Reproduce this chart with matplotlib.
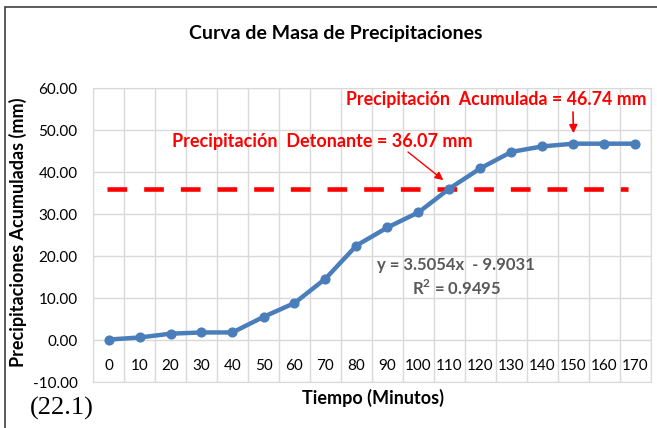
import numpy as np
import matplotlib.pyplot as plt
from matplotlib.patches import Rectangle

# datos de la curva de masa
tiempo = [0, 10, 20, 30, 40, 50, 60, 70, 80, 90, 100, 110, 120, 130, 140, 150, 160, 170]
precip_acum = [0.1, 0.6, 1.5, 1.8, 1.8, 5.5, 8.8, 14.6, 22.5, 26.8, 30.4, 36.07,
               40.9, 44.8, 46.1, 46.74, 46.74, 46.74]
p_detonante = 36.07
p_acumulada = 46.74
ecuacion = 'y = 3.5054x  - 9.9031'
r2 = 'R$^2$ = 0.9495'

plt.rcParams['font.family'] = ['Lato', 'DejaVu Sans']
plt.rcParams['mathtext.fontset'] = 'custom'
plt.rcParams['mathtext.rm'] = 'Lato:bold'

W, H = 657, 428
fig = plt.figure(figsize=(6.57, 4.28), dpi=100)
ax = fig.add_axes([93 / W, 1 - 382 / H, (651 - 93) / W, (382 - 88) / H])

def fxy(px, py):
    return (px / W, 1 - py / H)

idx = np.arange(len(tiempo))

# linea de precipitacion detonante
ax.plot([idx[0] - 0.05, idx[-1] - 0.25], [p_detonante] * 2, color='#FF0000', lw=3.3,
        ls=(0, (4.3, 3.7)), zorder=3)

ax.plot(idx, precip_acum, color='#4A7EBB', lw=3.2, marker='o', ms=6.3, zorder=4)

ax.set_xlim(-0.5, len(tiempo) - 0.5)
ax.set_ylim(-10, 60)
ax.set_yticks(np.arange(-10, 61, 10))
ax.set_yticklabels(['%.2f' % v for v in np.arange(-10, 61, 10)], fontsize=11)

# grid estilo excel: vertical entre categorias
ax.set_xticks(np.arange(-0.5, len(tiempo), 1))
ax.set_xticklabels([])
ax.tick_params(axis='both', length=0, pad=11)
ax.grid(True, color='#D9D9D9', lw=1)
ax.set_axisbelow(True)
for s in ax.spines.values():
    s.set_color('#D9D9D9')

# etiquetas de categorias dentro del area (eje cruza en 0)
for i, t in zip(idx, tiempo):
    ax.text(i, -6.2, str(t), ha='center', va='center', fontsize=11)

fig.text(18 / W, 1 - 232 / H, 'Precipitaciones Acumuladas (mm)', rotation=90,
         ha='center', va='center', fontsize=13, fontweight='bold')
fig.text(373 / W, 1 - 398 / H, 'Tiempo (Minutos)', ha='center', va='center',
         fontsize=13, fontweight='bold')
fig.text(336 / W, 1 - 33 / H, 'Curva de Masa de Precipitaciones', ha='center', va='center',
         fontsize=14, fontweight='bold')

# anotaciones
fig.text(*fxy(496, 99), 'Precipitación  Acumulada = %.2f mm' % p_acumulada,
         ha='center', va='center', color='#FF0000', fontsize=12.8, fontweight='bold')
ax.annotate('', xy=(idx[15], p_acumulada + 2.5), xytext=fxy(573, 112),
            textcoords='figure fraction',
            arrowprops=dict(arrowstyle='-|>', color='#FF0000', lw=1.2, mutation_scale=12,
                            shrinkA=0, shrinkB=0))
fig.text(*fxy(322, 141), 'Precipitación  Detonante = %.2f mm' % p_detonante,
         ha='center', va='center', color='#FF0000', fontsize=13, fontweight='bold')
ax.annotate('', xy=(idx[11] - 0.2, p_detonante + 2.0), xytext=fxy(408, 152),
            textcoords='figure fraction',
            arrowprops=dict(arrowstyle='-|>', color='#FF0000', lw=1, mutation_scale=12,
                            shrinkA=0, shrinkB=0))
fig.text(*fxy(456, 265), ecuacion, ha='center', va='center', color='#595959',
         fontsize=12, fontweight='bold')
fig.text(*fxy(457, 288), r2, ha='center', va='center', color='#595959',
         fontsize=12, fontweight='bold')

# borde del grafico
fig.patches.append(Rectangle((5 / W, -0.1), 1.2, 1.1 - 7 / H, transform=fig.transFigure,
                             fill=False, ec='#404040', lw=1.2))
fig.text(30 / W, 1 - 408 / H, '(22.1)', family='Liberation Serif', fontsize=19,
         ha='left', va='center')

fig.savefig('out.png', dpi=100)
